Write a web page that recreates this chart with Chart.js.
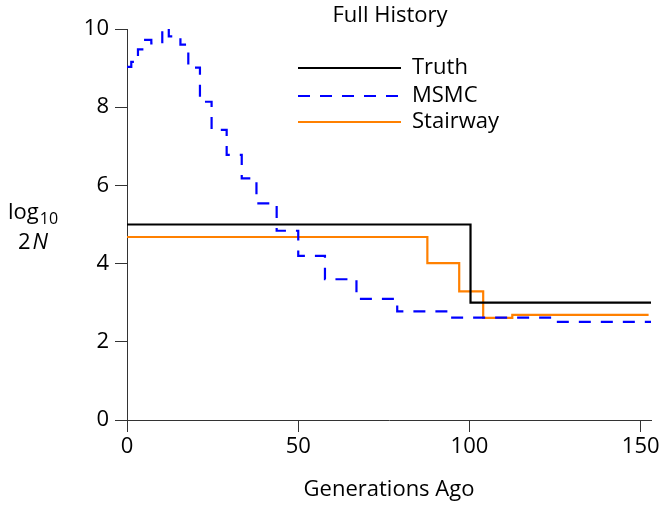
<!DOCTYPE html>
<html lang="en">
<head>
  <meta charset="utf-8">
  <title>Full History</title>
  <script src="https://cdn.jsdelivr.net/npm/chart.js@4.4.1/dist/chart.umd.min.js"></script>
  <style>
    html, body { margin: 0; padding: 0; background: #fff; }
    #wrap { width: 664px; height: 508px; }
  </style>
</head>
<body>
<div id="wrap"><canvas id="chart" width="664" height="508"></canvas></div>
<script>
// breakpoints (generations ago) and log10 2N values, each value holds until next breakpoint
var truthX = [0, 100.3, 153];
var truthY = [5.0, 3.0, 3.0];

var msmcX = [0, 1.25, 3.2, 5.3, 7.1, 10.3, 12.2, 15.6, 17.9, 21.3, 24.7, 29.1, 33.5, 37.8, 43.7, 50.0, 57.8, 67.0, 78.9, 94.5, 124.6, 153];
var msmcY = [9.03, 9.16, 9.48, 9.72, 9.63, 10.03, 9.81, 9.60, 9.01, 8.14, 7.42, 6.78, 6.18, 5.54, 4.84, 4.20, 3.60, 3.10, 2.78, 2.62, 2.51, 2.51];

var stairX = [0, 87.7, 97.0, 104.0, 112.5, 152.3];
var stairY = [4.68, 4.01, 3.29, 2.61, 2.69, 2.69];

var xTicks = [0, 50, 100, 150];
var yTicks = [0, 2, 4, 6, 8, 10];

var FONT = "'Open Sans', 'DejaVu Sans', sans-serif";
var FS = 22;
var AXIS = '#333';

function toPoints(xs, ys) {
  var pts = [];
  for (var i = 0; i < xs.length; i++) pts.push({x: xs[i], y: ys[i]});
  return pts;
}

// title, in-plot legend and horizontal y label drawn by hand
var decorations = {
  id: 'decorations',
  afterDraw: function(chart) {
    var ctx = chart.ctx;
    var area = chart.chartArea;
    ctx.save();
    ctx.fillStyle = '#000';
    ctx.font = FS + 'px ' + FONT;
    ctx.textAlign = 'center';
    ctx.textBaseline = 'middle';
    ctx.fillText('Full History', 390, 16);

    // legend
    var ly = [68, 96, 122];
    chart.data.datasets.forEach(function(ds, i) {
      ctx.strokeStyle = ds.borderColor;
      ctx.lineWidth = ds.borderWidth;
      ctx.setLineDash(ds.borderDash || []);
      ctx.beginPath();
      ctx.moveTo(area.left + 171, ly[i]);
      ctx.lineTo(area.left + 274, ly[i]);
      ctx.stroke();
      ctx.setLineDash([]);
      ctx.textAlign = 'left';
      ctx.fillText(ds.label, area.left + 285, ly[i]);
    });

    // y label: log10 2N
    ctx.textBaseline = 'alphabetic';
    ctx.textAlign = 'left';
    ctx.font = FS + 'px ' + FONT;
    ctx.fillText('log', 8, 219);
    var w = ctx.measureText('log').width;
    ctx.font = '16px ' + FONT;
    ctx.fillText('10', 8 + w + 1, 224);
    ctx.font = FS + 'px ' + FONT;
    var w2 = ctx.measureText('2').width;
    ctx.font = 'italic ' + FS + 'px ' + FONT;
    var w3 = ctx.measureText('N').width;
    var sx = 33 - (w2 + 2 + w3) / 2;
    ctx.font = FS + 'px ' + FONT;
    ctx.fillText('2', sx, 249);
    ctx.font = 'italic ' + FS + 'px ' + FONT;
    ctx.fillText('N', sx + w2 + 2, 249);
    ctx.restore();
  }
};

var ctx = document.getElementById('chart').getContext('2d');
var chart = new Chart(ctx, {
  type: 'line',
  data: {
    datasets: [{
      label: 'Truth',
      data: toPoints(truthX, truthY),
      borderColor: '#000000',
      borderWidth: 2.2,
      stepped: 'before'
    }, {
      label: 'MSMC',
      data: toPoints(msmcX, msmcY),
      borderColor: '#0000ff',
      borderWidth: 2.2,
      borderDash: [12, 10],
      stepped: 'before'
    }, {
      label: 'Stairway',
      data: toPoints(stairX, stairY),
      borderColor: '#ff8000',
      borderWidth: 2.2,
      stepped: 'before'
    }]
  },
  options: {
    responsive: false,
    animation: false,
    elements: { point: { radius: 0 } },
    layout: { padding: { left: 67, top: 29, right: 13, bottom: 0 } },
    plugins: {
      legend: { display: false },
      tooltip: { enabled: false },
      title: { display: false }
    },
    scales: {
      x: {
        type: 'linear',
        min: 0,
        max: 153,
        afterFit: function(s) { s.height = 88; },
        afterBuildTicks: function(s) { s.ticks = xTicks.map(function(v) { return {value: v}; }); },
        grid: { display: true, drawOnChartArea: false, drawTicks: true, tickLength: 12, color: AXIS },
        border: { display: true, color: AXIS, width: 1 },
        ticks: { color: '#000', padding: 2, maxRotation: 0, font: { family: FONT, size: FS } },
        title: { display: true, text: 'Generations Ago', color: '#000', padding: { top: 0, bottom: 5 }, font: { family: FONT, size: FS } }
      },
      y: {
        type: 'linear',
        min: 0,
        max: 10,
        afterFit: function(s) { s.width = 60; },
        afterBuildTicks: function(s) { s.ticks = yTicks.map(function(v) { return {value: v}; }); },
        grid: { display: true, drawOnChartArea: false, drawTicks: true, tickLength: 12, color: AXIS },
        border: { display: true, color: AXIS, width: 1 },
        ticks: { color: '#000', padding: 6, font: { family: FONT, size: FS } }
      }
    }
  },
  plugins: [decorations]
});
</script>
</body>
</html>
